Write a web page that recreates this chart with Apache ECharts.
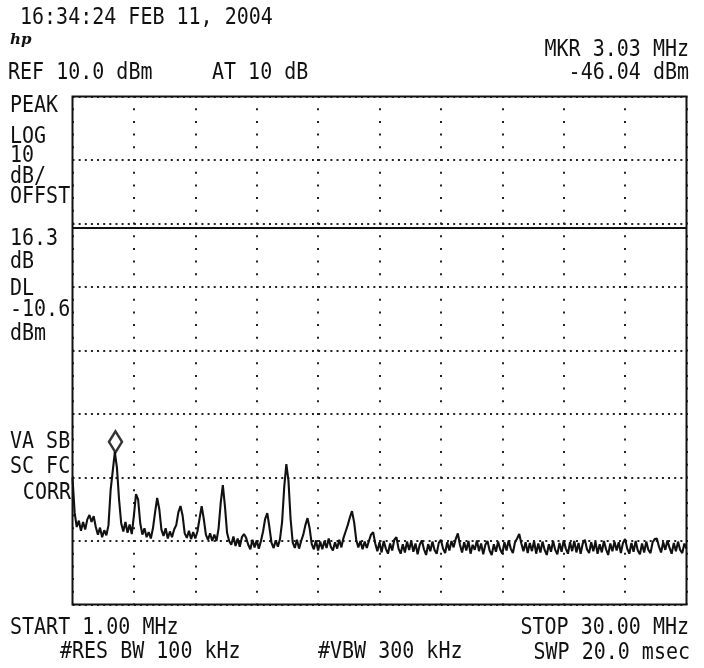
<!DOCTYPE html>
<html>
<head>
<meta charset="utf-8">
<script src="https://cdn.jsdelivr.net/npm/echarts@6/dist/echarts.min.js"></script>
<style>
html,body{margin:0;padding:0;background:#fff;}
#c{width:704px;height:668px;}
</style>
</head>
<body>
<div id="c"></div>
<script>
// Sweep definition (MHz)
const START_MHZ = 1.00;
const STOP_MHZ = 30.00;
const STEP_MHZ = 0.1;
// Amplitude scale (dBm)
const REF_DBM = 10;
const BOTTOM_DBM = -70;
const DB_PER_DIV = 10;
const H_DIVS = 10;
// Display line and marker
const DL_DBM = -10.6;
const MARKER = [3.03, -46.04];

// Trace amplitude (dBm), one row per MHz: x.0 .. x.9
const traceDbm = [
  -50.0, -55.5, -57.8, -56.8, -58.4, -57.0, -58.2, -56.6, -55.9, -57.0, // 1
  -56.1, -57.8, -59.0, -57.9, -59.4, -58.3, -59.1, -57.5, -52.0, -49.0, // 2
  -46.0, -48.5, -53.5, -57.2, -58.5, -57.0, -58.7, -57.4, -58.9, -56.0, // 3
  -52.6, -53.5, -57.2, -59.0, -58.0, -59.4, -58.6, -59.6, -58.0, -55.5, // 4
  -53.2, -55.0, -58.2, -59.2, -58.0, -59.6, -58.5, -59.4, -58.2, -57.5, // 5
  -55.5, -54.5, -56.0, -58.8, -59.5, -58.4, -59.7, -58.6, -59.6, -58.5, // 6
  -56.5, -54.5, -56.5, -59.0, -59.8, -58.8, -60.0, -59.0, -60.0, -58.0, // 7
  -54.0, -51.2, -54.5, -58.7, -60.0, -60.6, -59.3, -60.8, -59.6, -60.9, // 8
  -59.4, -58.9, -59.5, -60.6, -61.3, -59.8, -61.0, -59.9, -61.2, -60.0, // 9
  -58.5, -56.5, -55.6, -57.8, -60.3, -61.1, -59.9, -60.9, -59.7, -57.0, // 10
  -51.5, -47.9, -50.5, -56.5, -60.2, -61.1, -59.8, -61.2, -60.0, -59.0, // 11
  -57.5, -56.4, -58.0, -60.5, -61.3, -59.9, -61.5, -60.1, -61.3, -60.0, // 12
  -61.1, -59.6, -60.9, -61.5, -60.2, -61.2, -59.8, -61.0, -59.5, -58.5, // 13
  -57.5, -56.3, -55.3, -57.0, -59.8, -61.0, -60.0, -61.3, -60.1, -61.1, // 14
  -60.0, -59.0, -58.6, -60.4, -61.6, -60.2, -61.8, -60.0, -61.2, -62.0, // 15
  -60.4, -61.5, -59.8, -59.4, -61.2, -62.0, -60.5, -61.8, -60.1, -61.4, // 16
  -60.0, -61.7, -60.4, -62.1, -60.6, -59.9, -61.3, -62.2, -60.5, -61.6, // 17
  -60.1, -61.4, -62.0, -60.3, -59.8, -61.2, -61.9, -60.2, -61.5, -60.0, // 18
  -61.0, -59.7, -58.8, -60.6, -61.8, -60.2, -61.5, -60.0, -62.0, -60.6, // 19
  -61.4, -59.9, -61.6, -60.4, -62.1, -60.6, -60.0, -61.5, -62.2, -60.5, // 20
  -61.7, -60.1, -61.3, -62.0, -60.2, -61.5, -59.9, -61.2, -61.9, -60.2, // 21
  -59.6, -58.9, -60.4, -61.6, -60.2, -61.9, -60.3, -61.6, -60.0, -62.0, // 22
  -60.4, -61.8, -60.1, -61.4, -62.2, -60.5, -61.7, -60.0, -61.4, -62.1, // 23
  -60.3, -61.7, -59.9, -61.2, -62.0, -60.2, -61.6, -60.0, -61.8, -60.3, // 24
  -62.0, -60.4, -59.8, -61.3, -61.9, -60.2, -61.6, -60.1, -62.0, -60.5, // 25
  -61.8, -60.0, -61.3, -62.2, -60.4, -61.6, -60.1, -61.5, -60.2, -61.9, // 26
  -60.3, -59.7, -61.2, -62.0, -60.3, -61.7, -60.0, -61.5, -62.1, -60.4, // 27
  -61.8, -60.1, -61.4, -61.9, -60.2, -59.7, -59.6, -60.9, -61.8, -60.2, // 28
  -61.4, -59.9, -61.1, -62.0, -60.3, -61.6, -60.1, -61.4, -61.9, -60.4, // 29
  -61.2                                                                 // 30
];

// Annotation texts
const headerTexts = ['16:34:24 FEB 11, 2004', 'REF 10.0 dBm', 'AT 10 dB', 'MKR 3.03 MHz', '-46.04 dBm'];
const sideTexts = ['PEAK', 'LOG', '10', 'dB/', 'OFFST', '16.3', 'dB', 'DL', '-10.6', 'dBm'];
const sideTexts2 = ['VA SB', 'SC FC', 'CORR'];
const footerTexts = ['START 1.00 MHz', 'STOP 30.00 MHz', '#RES BW 100 kHz', '#VBW 300 kHz', 'SWP 20.0 msec'];

const tracePts = traceDbm.map((v, i) => [+(START_MHZ + i * STEP_MHZ).toFixed(2), v]);

const INK = '#111';
const FONT = '20px "DejaVu Sans Mono", "Liberation Mono", monospace';

function txt(s, x, y, align) {
  return { type: 'text', silent: true, z: 10, x: x, y: y, scaleY: 1.12,
    style: { text: s, x: 0, y: 0, font: FONT, fill: INK,
             textAlign: align || 'left', textVerticalAlign: 'middle' } };
}

const sideY = [106, 137, 156, 177, 197, 239, 262, 289, 310, 334];
const side2Y = [442, 467, 493];

const graphics = [
  txt(headerTexts[0], 20, 18),
  { type: 'text', silent: true, z: 10,
    style: { text: 'hp', x: 10, y: 40, font: 'italic bold 15px "DejaVu Serif", serif',
             fill: INK, textVerticalAlign: 'middle' } },
  txt(headerTexts[1], 8, 73),
  txt(headerTexts[2], 212, 73),
  txt(headerTexts[3], 689, 50, 'right'),
  txt(headerTexts[4], 689, 73, 'right'),
  txt(footerTexts[0], 10, 628),
  txt(footerTexts[1], 689, 628, 'right'),
  txt(footerTexts[2], 60, 652),
  txt(footerTexts[3], 318, 652),
  txt(footerTexts[4], 690, 653, 'right')
];
sideTexts.forEach((s, i) => graphics.push(txt(s, 10, sideY[i])));
graphics.push(txt(sideTexts2[0], 10, side2Y[0]));
graphics.push(txt(sideTexts2[1], 10, side2Y[1]));
graphics.push(txt(sideTexts2[2], 71, side2Y[2], 'right'));

const chart = echarts.init(document.getElementById('c'));
chart.setOption({
  animation: false,
  backgroundColor: '#fff',
  grid: { left: 72.5, top: 96.5, width: 614, height: 508, show: true,
          borderColor: INK, borderWidth: 2, backgroundColor: 'transparent', z: 3 },
  xAxis: [
    { type: 'value', min: START_MHZ, max: STOP_MHZ,
      axisLine: { show: false }, axisTick: { show: false }, axisLabel: { show: false },
      splitLine: { show: false } },
    { type: 'value', min: 0, max: H_DIVS, interval: 1, position: 'bottom',
      axisLine: { show: false }, axisTick: { show: false }, axisLabel: { show: false },
      splitLine: { show: true, lineStyle: { color: '#222', width: 2, type: [2, 10.7], dashOffset: 1 } } }
  ],
  yAxis: { type: 'value', min: BOTTOM_DBM, max: REF_DBM, interval: DB_PER_DIV,
    axisLine: { show: false }, axisTick: { show: false }, axisLabel: { show: false },
    splitLine: { show: true, lineStyle: { color: '#222', width: 2, type: [2, 4.14] } } },
  series: [
    { type: 'line', xAxisIndex: 0, data: tracePts, showSymbol: false, symbol: 'none',
      lineStyle: { color: INK, width: 2.1 }, z: 4,
      markLine: { silent: true, symbol: 'none', label: { show: false },
        lineStyle: { color: INK, width: 2, type: 'solid' },
        data: [{ yAxis: DL_DBM }] } },
    { type: 'scatter', xAxisIndex: 0, data: [MARKER], symbol: 'diamond',
      symbolSize: [13, 21], symbolOffset: [0, '-50%'], z: 6,
      itemStyle: { color: '#fff', borderColor: '#000', borderWidth: 2.6 } }
  ],
  graphic: graphics
});
</script>
</body>
</html>
